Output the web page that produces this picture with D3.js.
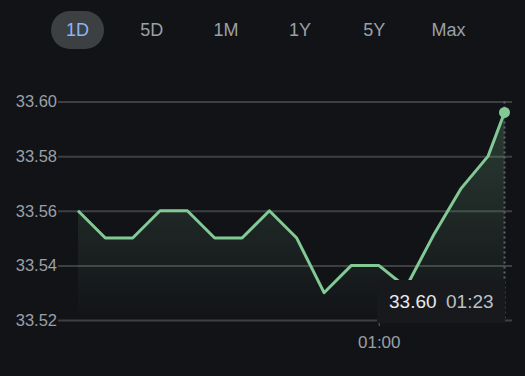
<!DOCTYPE html>
<html>
<head>
<meta charset="utf-8">
<script src="https://d3js.org/d3.v7.min.js"></script>
<style>
  body { margin: 0; background: #121317; }
  svg { display: block; font-family: Arial, "Liberation Sans", sans-serif; }
  .grid line { stroke: #3c4043; stroke-width: 2; }
  .grid text { fill: #9aa0a6; font-size: 16.5px; }
  .xaxis line { stroke: #5f6368; }
  .xaxis text { fill: #9aa0a6; font-size: 17px; }
</style>
</head>
<body>
<div id="chart"></div>
<script>
// ranges shown as tabs
const tabs = ["1D", "5D", "1M", "1Y", "5Y", "Max"];
const activeTab = "1D";

// 5 minute quotes (last one is the live value)
const times = ["00:05", "00:10", "00:15", "00:20", "00:25", "00:30", "00:35", "00:40", "00:45",
  "00:50", "00:55", "01:00", "01:05", "01:10", "01:15", "01:20", "01:23"];
const prices = [33.56, 33.55, 33.55, 33.56, 33.56, 33.55, 33.55, 33.56, 33.55,
  33.53, 33.54, 33.54, 33.532, 33.551, 33.568, 33.580, 33.596];

const yTicks = [33.52, 33.54, 33.56, 33.58, 33.60];
const xTicks = ["01:00"];

const W = 525, H = 376;
const parseT = d3.timeParse("%H:%M");
const data = times.map((t, i) => ({ t: parseT(t), v: prices[i] }));

const svg = d3.select("#chart").append("svg")
  .attr("width", W).attr("height", H);

// tabs
const tabX = d3.scalePoint().domain(tabs).range([77.5, 448.5]);
svg.append("rect")
  .attr("x", tabX(activeTab) - 26.5).attr("y", 11)
  .attr("width", 53).attr("height", 38).attr("rx", 19)
  .attr("fill", "#3c4043");
svg.selectAll(".tab").data(tabs).enter().append("text")
  .attr("x", d => tabX(d)).attr("y", 36)
  .attr("text-anchor", "middle")
  .style("font-size", "18px")
  .attr("fill", d => d === activeTab ? "#8ab4f8" : "#9aa0a6")
  .text(d => d);

// scales
const x = d3.scaleTime()
  .domain(d3.extent(data, d => d.t))
  .range([78, 504.5]);
const y = d3.scaleLinear()
  .domain([33.52, 33.60])
  .range([320, 101.5]);

const gridLeft = 58, gridRight = 512;

// horizontal grid + labels
svg.append("g")
  .attr("class", "grid")
  .attr("transform", `translate(${gridLeft},0)`)
  .call(d3.axisLeft(y).tickValues(yTicks).tickFormat(d3.format(".2f"))
    .tickSize(-(gridRight - gridLeft)).tickPadding(1))
  .call(g => g.select(".domain").remove());

// x axis tick
svg.append("g")
  .attr("class", "xaxis")
  .attr("transform", "translate(0,320)")
  .call(d3.axisBottom(x).tickValues(xTicks.map(parseT)).tickFormat(d3.timeFormat("%H:%M"))
    .tickSize(6).tickPadding(10))
  .call(g => g.select(".domain").remove());

// area gradient
const defs = svg.append("defs");
const grad = defs.append("linearGradient")
  .attr("id", "fade")
  .attr("gradientUnits", "userSpaceOnUse")
  .attr("x1", 0).attr("x2", 0)
  .attr("y1", y(33.60)).attr("y2", y(33.52));
grad.append("stop").attr("offset", 0).attr("stop-color", "#81c995").attr("stop-opacity", 0.24);
grad.append("stop").attr("offset", 1).attr("stop-color", "#81c995").attr("stop-opacity", 0);

svg.append("path")
  .datum(data)
  .attr("fill", "url(#fade)")
  .attr("d", d3.area().x(d => x(d.t)).y0(y(33.52)).y1(d => y(d.v)));

// hover guide
const last = data[data.length - 1];
svg.append("line")
  .attr("x1", x(last.t)).attr("x2", x(last.t))
  .attr("y1", y(33.60)).attr("y2", y(33.52))
  .attr("stroke", "#5f6368").attr("stroke-width", 2)
  .attr("stroke-dasharray", "2,3");

// price line
svg.append("path")
  .datum(data)
  .attr("fill", "none")
  .attr("stroke", "#81c995")
  .attr("stroke-width", 3)
  .attr("stroke-linejoin", "round")
  .attr("d", d3.line().x(d => x(d.t)).y(d => y(d.v)));

svg.append("circle")
  .attr("cx", x(last.t)).attr("cy", y(last.v))
  .attr("r", 5.5).attr("fill", "#81c995");

// tooltip
const tip = svg.append("g").attr("transform", "translate(377,280)");
tip.append("rect")
  .attr("width", 128).attr("height", 43)
  .attr("fill", "#17191d");
tip.append("text")
  .attr("x", 12).attr("y", 27.5)
  .attr("fill", "#e8eaed")
  .style("font-size", "19px")
  .text(d3.format(".2f")(last.v));
tip.append("text")
  .attr("x", 69).attr("y", 27.5)
  .attr("fill", "#bdc1c6")
  .style("font-size", "19px")
  .text(d3.timeFormat("%H:%M")(last.t));
</script>
</body>
</html>
